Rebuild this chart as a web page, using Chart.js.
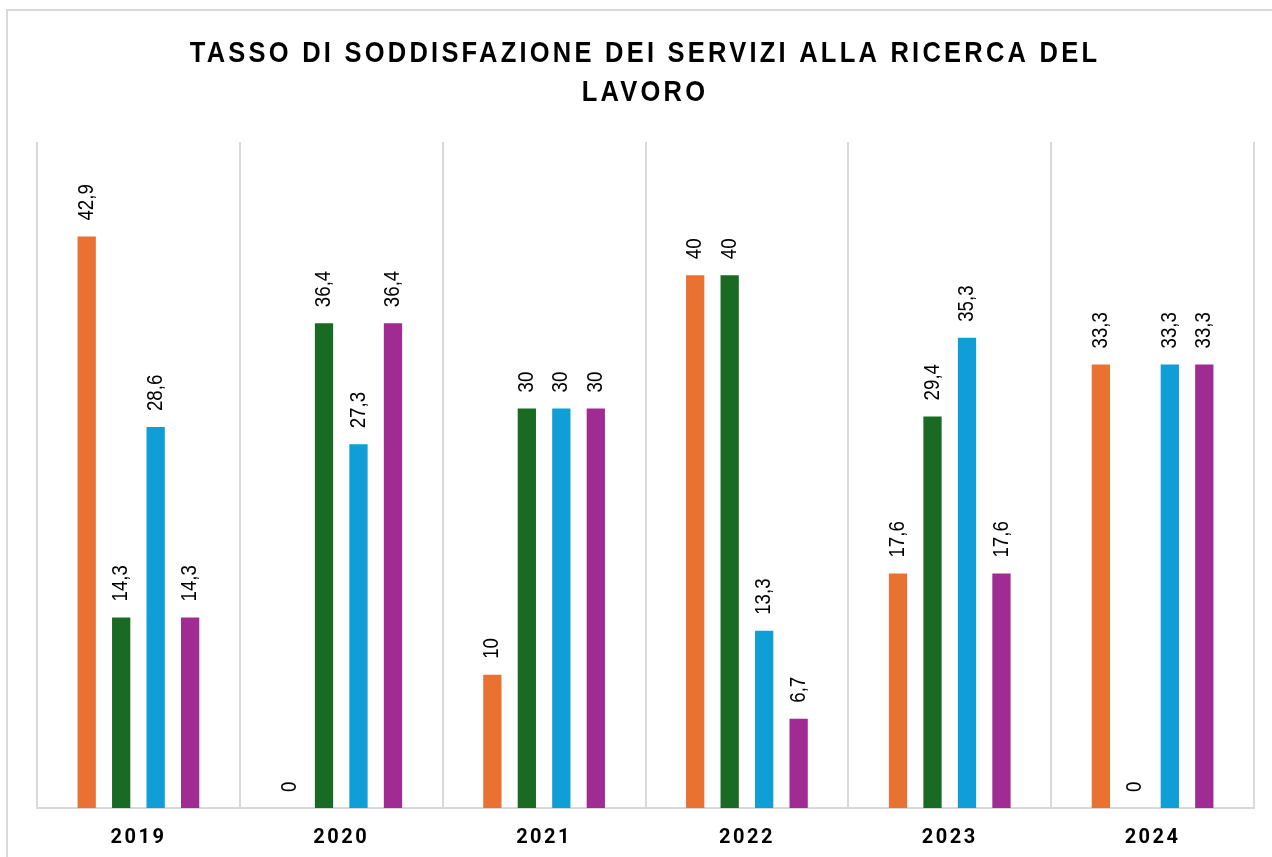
<!DOCTYPE html>
<html>
<head>
<meta charset="utf-8">
<script src="https://cdn.jsdelivr.net/npm/chart.js@4.4.1/dist/chart.umd.min.js"></script>
<style>
  html, body { margin: 0; padding: 0; background: #fff; overflow: hidden; }
  #frame { position: absolute; left: 6px; top: 9px; width: 1400px; height: 1000px; border: 2px solid #d9d9d9; }
  #wrap { position: absolute; left: 0; top: 0; width: 1272px; height: 880px; }
</style>
</head>
<body>
<div id="frame"></div>
<div id="wrap"><canvas id="chart"></canvas></div>
<script>
const years = ['2019', '2020', '2021', '2022', '2023', '2024']
const serie1 = [42.9, 0, 10, 40, 17.6, 33.3]
const serie2 = [14.3, 36.4, 30, 40, 29.4, 0]
const serie3 = [28.6, 27.3, 30, 13.3, 35.3, 33.3]
const serie4 = [14.3, 36.4, 30, 6.7, 17.6, 33.3]
const titleLines = ['TASSO DI SODDISFAZIONE DEI SERVIZI ALLA RICERCA DEL', 'LAVORO']

const COLORS = ['#E97132', '#196B24', '#0F9ED5', '#A02B93']

// spaced letters for the year labels
const spacing = {
    id: 'spacing',
    beforeDraw(chart) {
        chart.ctx.letterSpacing = '2.5px'
    }
}

// narrow, spaced title (drawn by hand so it can be squeezed a bit)
const bigTitle = {
    id: 'bigTitle',
    afterDraw(chart) {
        const ctx = chart.ctx
        ctx.save()
        ctx.letterSpacing = '3.8px'
        ctx.font = 'bold 30px "Liberation Sans", Arial, sans-serif'
        ctx.fillStyle = '#000'
        ctx.textAlign = 'center'
        ctx.textBaseline = 'alphabetic'
        titleLines.forEach((line, i) => {
            ctx.save()
            ctx.translate(645, 62 + i * 39)
            ctx.scale(0.85, 1)
            ctx.fillText(line, 0, 0)
            ctx.restore()
        })
        ctx.restore()
    }
}

// vertical value labels above each bar
const barLabels = {
    id: 'barLabels',
    afterDatasetsDraw(chart) {
        const ctx = chart.ctx
        ctx.save()
        ctx.letterSpacing = '0px'
        ctx.font = '22px "Liberation Sans", Arial, sans-serif'
        ctx.fillStyle = '#000'
        ctx.textAlign = 'left'
        ctx.textBaseline = 'middle'
        chart.data.datasets.forEach((ds, i) => {
            chart.getDatasetMeta(i).data.forEach((bar, j) => {
                ctx.save()
                ctx.translate(bar.x, bar.y - 16)
                ctx.rotate(-Math.PI / 2)
                ctx.scale(0.85, 1)
                ctx.fillText(String(ds.data[j]).replace('.', ','), 0, 0)
                ctx.restore()
            })
        })
        ctx.restore()
    }
}

const series = [serie1, serie2, serie3, serie4]
const datasets = series.map((d, i) => ({
    label: 'Serie ' + (i + 1),
    data: d,
    backgroundColor: COLORS[i],
    borderWidth: 0,
    categoryPercentage: 0.68,
    barPercentage: 0.53
}))

new Chart(document.getElementById('chart'), {
    type: 'bar',
    data: { labels: years, datasets: datasets },
    plugins: [spacing, barLabels, bigTitle],
    options: {
        responsive: true,
        maintainAspectRatio: false,
        animation: false,
        layout: { padding: { top: 142, left: 37, right: 18, bottom: 12 } },
        plugins: {
            legend: { display: false },
            tooltip: { enabled: false },
            title: { display: false }
        },
        scales: {
            x: {
                grid: { color: '#d9d9d9', lineWidth: 2, drawTicks: false },
                border: { color: '#d9d9d9', width: 2 },
                ticks: { color: '#000', padding: 18, font: { family: 'Roboto', size: 20, weight: 'bold' } }
            },
            y: {
                display: false,
                min: 0,
                max: 50
            }
        }
    }
})
</script>
</body>
</html>
